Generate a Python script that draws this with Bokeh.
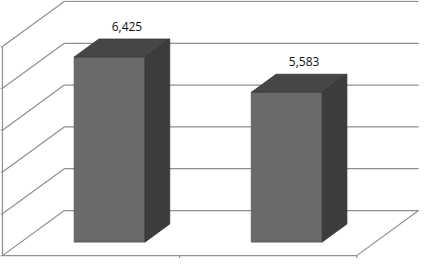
from bokeh.plotting import figure
from bokeh.models import ColumnDataSource, Range1d
from bokeh.core.properties import value
from bokeh.embed import file_html
from bokeh.resources import INLINE

# ---- data ----
categories = ["Category 1", "Category 2"]
values = [6425, 5583]
y_ticks = [2000, 3000, 4000, 5000, 6000, 7000]
y_min, y_max = 2000, 7000

# ---- 3D projection settings (oblique) ----
n = len(categories)
DX = 0.349        # depth shift in category units
DY = 1078.0       # depth shift in value units
bar_half = 0.2    # half bar width (category units)
d_front, d_back = 0.3, 0.7   # bar depth span (fraction of full depth)

p = figure(width=422, height=258, output_backend="svg", toolbar_location=None,
           x_range=Range1d(-0.011, 2.371), y_range=Range1d(1931, 8101),
           min_border=0, outline_line_color=None)
p.axis.visible = False
p.grid.visible = False
p.background_fill_color = "white"

grid_col = "#8f8f8f"
gw = 1.2

# left wall diagonals & back wall horizontals
for v in y_ticks:
    p.line([0, DX], [v, v + DY], line_color=grid_col, line_width=gw)
    p.line([DX, n + DX], [v + DY, v + DY], line_color=grid_col, line_width=gw)

# left axis line and its ticks
p.line([0, 0], [y_min, y_max], line_color=grid_col, line_width=gw)
p.segment(x0=[0] * len(y_ticks), y0=y_ticks, x1=[-0.011] * len(y_ticks), y1=y_ticks,
          line_color=grid_col, line_width=gw)

# floor: front edge, right edge, category ticks
p.line([0, n], [y_min, y_min], line_color=grid_col, line_width=gw)
p.line([n, n + DX], [y_min, y_min + DY], line_color=grid_col, line_width=gw)
cat_bounds = list(range(1, n + 1))
p.segment(x0=cat_bounds, y0=[y_min] * n, x1=cat_bounds, y1=[y_min - 95] * n,
          line_color=grid_col, line_width=gw)

# bars
front_xs, front_ys, top_xs, top_ys, side_xs, side_ys = [], [], [], [], [], []
for i, v in enumerate(values):
    c = i + 0.5
    l, r = c - bar_half, c + bar_half
    fx, fy = d_front * DX, d_front * DY
    bx, by = d_back * DX, d_back * DY
    front_xs.append([l + fx, r + fx, r + fx, l + fx])
    front_ys.append([y_min + fy, y_min + fy, v + fy, v + fy])
    top_xs.append([l + fx, r + fx, r + bx, l + bx])
    top_ys.append([v + fy, v + fy, v + by, v + by])
    side_xs.append([r + fx, r + bx, r + bx, r + fx])
    side_ys.append([y_min + fy, y_min + by, v + by, v + fy])

p.patches(front_xs, front_ys, fill_color="#6a6a6a", line_color="#555555", line_width=0.8)
p.patches(top_xs, top_ys, fill_color="#464646", line_color="#3a3a3a", line_width=0.8)
p.patches(side_xs, side_ys, fill_color="#3c3c3c", line_color="#333333", line_width=0.8)

# data labels
mid = (d_front + d_back) / 2
lab = ColumnDataSource(dict(
    x=[i + 0.5 + mid * DX for i in range(n)],
    y=[v + mid * DY for v in values],
    t=[f"{v:,}" for v in values],
))
p.text(x="x", y="y", text="t", source=lab, x_offset=5, y_offset=-22,
       text_align="center", text_baseline="middle",
       text_font=value("Open Sans"), text_font_size="12px", text_color="#111111")

open("out.html", "w").write(file_html(p, INLINE))
